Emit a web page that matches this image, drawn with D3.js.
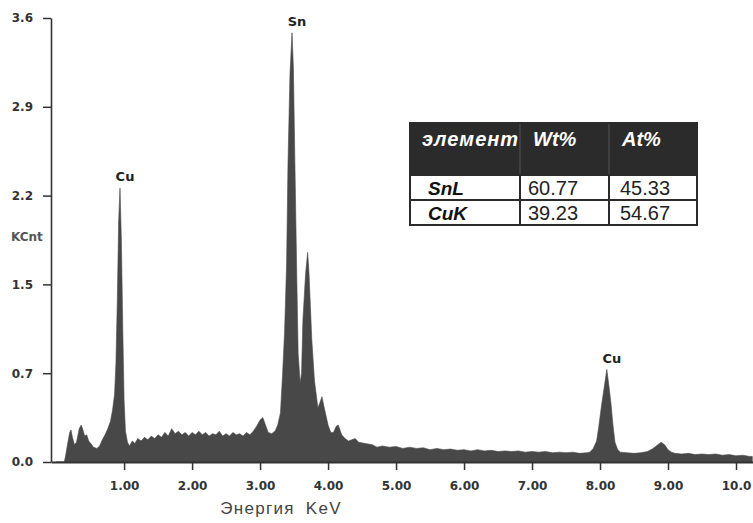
<!DOCTYPE html>
<html>
<head>
<meta charset="utf-8">
<script src="https://cdn.jsdelivr.net/npm/d3@7"></script>
<style>
  body { margin: 0; background: #fff; }
  svg { display: block; }
</style>
</head>
<body>
<div id="chart-area"></div>
<script>
// spectrum: energy (keV) and counts (KCnt)
const energy = [
  0.00, 0.12, 0.14, 0.17, 0.20, 0.22, 0.24, 0.27, 0.30, 0.34, 0.37, 0.39, 0.42, 0.45, 0.48, 0.51, 0.55, 0.60,
  0.64, 0.68, 0.72, 0.76, 0.80, 0.83, 0.86, 0.88, 0.90, 0.92, 0.94, 0.96, 0.98, 1.00, 1.02, 1.05, 1.08,
  1.12, 1.16, 1.20, 1.25, 1.30, 1.35, 1.40, 1.45, 1.50, 1.55, 1.60, 1.65, 1.70, 1.75, 1.80, 1.85, 1.90,
  1.95, 2.00, 2.05, 2.10, 2.15, 2.20, 2.25, 2.30, 2.35, 2.40, 2.45, 2.50, 2.55, 2.60, 2.65, 2.70, 2.75,
  2.80, 2.85, 2.90, 2.95, 3.00, 3.04, 3.08, 3.12, 3.17, 3.22, 3.26, 3.30, 3.33, 3.36, 3.39, 3.41, 3.44,
  3.47, 3.49, 3.51, 3.54, 3.56, 3.59, 3.61, 3.63, 3.67, 3.70, 3.72, 3.76, 3.80, 3.85, 3.88, 3.91, 3.94,
  4.00, 4.04, 4.08, 4.12, 4.15, 4.20, 4.25, 4.30, 4.35, 4.40, 4.45, 4.55, 4.65, 4.72, 4.80, 4.90, 5.00,
  5.10, 5.20, 5.30, 5.40, 5.50, 5.60, 5.70, 5.80, 5.90, 6.00, 6.10, 6.20, 6.30, 6.40, 6.50, 6.60, 6.70,
  6.80, 6.90, 7.00, 7.10, 7.20, 7.30, 7.40, 7.50, 7.60, 7.70, 7.80, 7.85, 7.90, 7.95, 7.98, 8.02, 8.06,
  8.10, 8.13, 8.16, 8.19, 8.22, 8.26, 8.30, 8.40, 8.50, 8.60, 8.70, 8.78, 8.85, 8.90, 8.95, 9.00, 9.05,
  9.10, 9.20, 9.30, 9.40, 9.50, 9.60, 9.70, 9.80, 9.90, 10.00, 10.10, 10.20, 10.24
];
const counts = [
  0.00, 0.00, 0.05, 0.15, 0.24, 0.26, 0.20, 0.14, 0.16, 0.27, 0.30, 0.27, 0.21, 0.22, 0.17, 0.15, 0.12, 0.11,
  0.13, 0.18, 0.22, 0.27, 0.33, 0.42, 0.55, 0.80, 1.30, 1.95, 2.22, 1.80, 1.10, 0.50, 0.25, 0.16, 0.13,
  0.17, 0.15, 0.19, 0.17, 0.20, 0.18, 0.21, 0.19, 0.22, 0.20, 0.24, 0.21, 0.27, 0.23, 0.25, 0.22, 0.24,
  0.21, 0.24, 0.22, 0.25, 0.22, 0.24, 0.21, 0.23, 0.22, 0.25, 0.21, 0.23, 0.21, 0.24, 0.22, 0.23, 0.21,
  0.24, 0.22, 0.25, 0.29, 0.34, 0.36, 0.30, 0.24, 0.23, 0.25, 0.30, 0.40, 0.70, 1.05, 1.60, 2.40, 3.15,
  3.48, 3.20, 2.50, 1.50, 0.88, 0.64, 0.72, 1.15, 1.53, 1.70, 1.53, 1.00, 0.66, 0.44, 0.48, 0.53, 0.45,
  0.30, 0.24, 0.24, 0.29, 0.30, 0.22, 0.19, 0.17, 0.18, 0.19, 0.16, 0.15, 0.14, 0.12, 0.13, 0.12, 0.125,
  0.11, 0.12, 0.11, 0.115, 0.10, 0.11, 0.10, 0.105, 0.095, 0.10, 0.09, 0.10, 0.09, 0.095, 0.085, 0.09, 0.085,
  0.09, 0.08, 0.085, 0.08, 0.085, 0.075, 0.08, 0.075, 0.08, 0.07, 0.075, 0.08, 0.11, 0.17, 0.28, 0.45, 0.60,
  0.75, 0.62, 0.48, 0.30, 0.16, 0.10, 0.08, 0.075, 0.07, 0.075, 0.085, 0.11, 0.14, 0.16, 0.14, 0.10, 0.08,
  0.07, 0.065, 0.07, 0.06, 0.065, 0.06, 0.065, 0.055, 0.06, 0.05, 0.055, 0.045, 0.045
];

const xTicks = [1, 2, 3, 4, 5, 6, 7, 8, 9, 10];
const xTickLabels = ['1.00', '2.00', '3.00', '4.00', '5.00', '6.00', '7.00', '8.00', '9.00', '10.0'];
const yTicks = [0, 0.72, 1.44, 2.16, 2.88, 3.6];
const yTickLabels = ['0.0', '0.7', '1.5', '2.2', '2.9', '3.6'];

const peakNames = ['Cu', 'Sn', 'Cu'];
const peakEnergy = [0.94, 3.47, 8.10];
const peakCounts = [2.22, 3.48, 0.75];

const tableHeader = ['элемент', 'Wt%', 'At%'];
const tableElements = ['SnL', 'CuK'];
const tableWt = ['60.77', '39.23'];
const tableAt = ['45.33', '54.67'];

const W = 753, H = 523;
const plot = { left: 51, right: 753, top: 18, bottom: 462 };

const svg = d3.select('#chart-area').append('svg')
  .attr('width', W)
  .attr('height', H);

const x = d3.scaleLinear().domain([-0.075, 10.25]).range([plot.left, plot.right]);
const y = d3.scaleLinear().domain([0, 3.6]).range([plot.bottom, plot.top]);

const spectrum = energy.map((e, i) => ({ e: e, v: counts[i] }));

// spectrum fill
const area = d3.area()
  .x(d => x(d.e))
  .y0(y(0))
  .y1(d => y(d.v));

svg.append('path')
  .datum(spectrum)
  .attr('d', area)
  .attr('fill', '#484848')
  .attr('stroke', '#484848')
  .attr('stroke-width', 0.6);

// x axis
const xAxisCall = d3.axisBottom(x)
  .tickValues(xTicks)
  .tickSize(8)
  .tickSizeOuter(0)
  .tickFormat((d, i) => xTickLabels[i]);

const xAxisGroup = svg.append('g')
  .attr('transform', `translate(0, ${plot.bottom})`)
  .call(xAxisCall);

xAxisGroup.select('.domain').attr('stroke', '#333').attr('stroke-width', 2.2);
xAxisGroup.selectAll('.tick line').attr('stroke', '#333').attr('stroke-width', 1.5);
xAxisGroup.selectAll('.tick text')
  .attr('y', 19)
  .attr('font-family', 'DejaVu Sans')
  .attr('font-weight', 'bold')
  .attr('font-size', '12px')
  .attr('fill', '#333');

// y axis
const yAxisCall = d3.axisLeft(y)
  .tickValues(yTicks)
  .tickSize(8)
  .tickSizeOuter(0)
  .tickFormat((d, i) => yTickLabels[i]);

const yAxisGroup = svg.append('g')
  .attr('transform', `translate(${plot.left}, 0)`)
  .call(yAxisCall);

yAxisGroup.select('.domain').attr('stroke', '#333').attr('stroke-width', 1.6);
yAxisGroup.selectAll('.tick line').attr('stroke', '#333').attr('stroke-width', 1.5);
yAxisGroup.selectAll('.tick text')
  .attr('x', -18)
  .attr('font-family', 'DejaVu Sans')
  .attr('font-weight', 'bold')
  .attr('font-size', '12px')
  .attr('fill', '#333');

// axis labels
svg.append('text')
  .attr('x', 11)
  .attr('y', 241)
  .attr('font-family', 'DejaVu Sans')
  .attr('font-weight', 'bold')
  .attr('font-size', '12px')
  .attr('fill', '#555')
  .text('KCnt');

svg.append('text')
  .attr('x', 281)
  .attr('y', 514)
  .attr('text-anchor', 'middle')
  .attr('font-family', 'Liberation Sans, Arial, sans-serif')
  .attr('font-size', '17px')
  .attr('letter-spacing', '1.3px')
  .attr('word-spacing', '5px')
  .attr('fill', '#444')
  .text('Энергия KeV');

// peak labels
svg.selectAll('.peak-label')
  .data(peakNames)
  .enter()
  .append('text')
    .attr('class', 'peak-label')
    .attr('x', (d, i) => x(peakEnergy[i]) + 5)
    .attr('y', (d, i) => y(peakCounts[i]) - 7)
    .attr('text-anchor', 'middle')
    .attr('font-family', 'DejaVu Sans')
    .attr('font-weight', 'bold')
    .attr('font-size', '13px')
    .attr('fill', '#222')
    .text(d => d);

// composition table
const tbl = { left: 409, top: 122, right: 698, headerH: 52, rowH: 25 };
const colX = [tbl.left, 520, 609, tbl.right];
const tableG = svg.append('g');

const tableBottom = tbl.top + tbl.headerH + tbl.rowH * tableElements.length;

tableG.append('rect')
  .attr('x', tbl.left)
  .attr('y', tbl.top)
  .attr('width', tbl.right - tbl.left)
  .attr('height', tableBottom - tbl.top + 2)
  .attr('fill', '#2b2b2b');

// white body cells
tableElements.forEach((el, r) => {
  for (let c = 0; c < 3; c++) {
    tableG.append('rect')
      .attr('x', colX[c] + (c === 0 ? 2 : 1))
      .attr('y', tbl.top + tbl.headerH + 2 + r * tbl.rowH)
      .attr('width', colX[c + 1] - colX[c] - (c === 0 ? 3 : 2) - (c === 2 ? 1 : 0))
      .attr('height', tbl.rowH - 2)
      .attr('fill', '#fff');
  }
});

// header divider lines in the dark band
[colX[1], colX[2]].forEach(cx => {
  tableG.append('line')
    .attr('x1', cx).attr('x2', cx)
    .attr('y1', tbl.top + 2).attr('y2', tbl.top + tbl.headerH)
    .attr('stroke', '#555')
    .attr('stroke-width', 1);
});

tableG.selectAll('.head')
  .data(tableHeader)
  .enter()
  .append('text')
    .attr('class', 'head')
    .attr('x', (d, i) => [422, 533, 622][i])
    .attr('y', tbl.top + 24)
    .attr('font-family', 'Liberation Sans, Arial, sans-serif')
    .attr('font-weight', 'bold')
    .attr('font-style', 'italic')
    .attr('font-size', '20px')
    .attr('letter-spacing', (d, i) => i === 0 ? '1px' : '0px')
    .attr('fill', '#fff')
    .text(d => d);

tableElements.forEach((el, r) => {
  const base = tbl.top + tbl.headerH + 2 + r * tbl.rowH + 19;
  tableG.append('text')
    .attr('x', 428)
    .attr('y', base)
    .attr('font-family', 'Liberation Sans, Arial, sans-serif')
    .attr('font-weight', 'bold')
    .attr('font-style', 'italic')
    .attr('font-size', '19px')
    .attr('fill', '#111')
    .text(el);
  tableG.append('text')
    .attr('x', 528)
    .attr('y', base)
    .attr('font-family', 'Liberation Sans, Arial, sans-serif')
    .attr('font-size', '20px')
    .attr('fill', '#222')
    .text(tableWt[r]);
  tableG.append('text')
    .attr('x', 620)
    .attr('y', base)
    .attr('font-family', 'Liberation Sans, Arial, sans-serif')
    .attr('font-size', '20px')
    .attr('fill', '#222')
    .text(tableAt[r]);
});
</script>
</body>
</html>
